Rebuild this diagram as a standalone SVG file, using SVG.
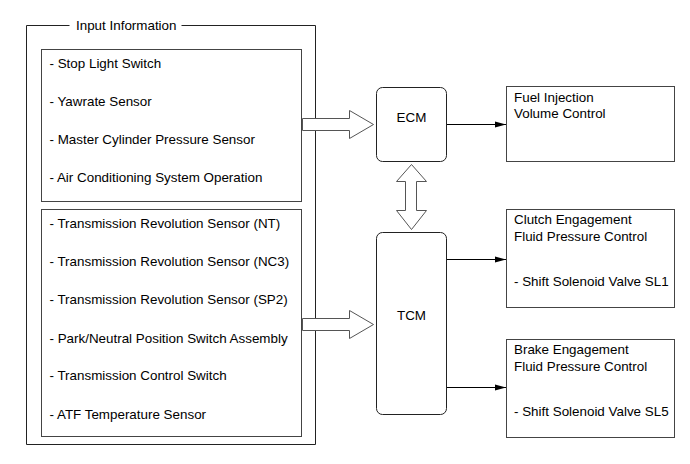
<svg xmlns="http://www.w3.org/2000/svg" width="690" height="464" viewBox="0 0 690 464">
<defs>
<style>
text{font-family:"Liberation Sans",Arial,sans-serif;font-size:13.4px;fill:#000}
.frame{fill:none;stroke:#222;stroke-width:1}
.box{fill:#fff;stroke:#444;stroke-width:1}
.blk{fill:#fff;stroke:#555;stroke-width:1}
.ln{fill:none;stroke:#000;stroke-width:1.2}
.c{text-anchor:middle}
</style>
<marker id="ah" markerWidth="11" markerHeight="7" refX="11" refY="3.5" orient="auto" markerUnits="userSpaceOnUse">
<path d="M0,0.5 L11,3.5 L0,6.5 Z" fill="#000"/>
</marker>
</defs>
<rect width="690" height="464" fill="#fff"/>

<g id="input-frame">
<path class="frame" d="M69.5,25.5 H26.5 V444.5 H315.5 V25.5 H181.5"/>
<text x="76" y="30">Input Information</text>
</g>

<g id="ecm-inputs">
<rect class="box" x="41.5" y="49.5" width="260" height="152"/>
<text x="49.5" y="68">- Stop Light Switch</text>
<text x="49.5" y="105.5">- Yawrate Sensor</text>
<text x="49.5" y="144">- Master Cylinder Pressure Sensor</text>
<text x="49.5" y="182">- Air Conditioning System Operation</text>
</g>

<g id="tcm-inputs">
<rect class="box" x="41.5" y="209.5" width="260" height="227"/>
<text x="49.5" y="228">- Transmission Revolution Sensor (NT)</text>
<text x="49.5" y="266">- Transmission Revolution Sensor (NC3)</text>
<text x="49.5" y="304">- Transmission Revolution Sensor (SP2)</text>
<text x="49.5" y="343">- Park/Neutral Position Switch Assembly</text>
<text x="49.5" y="380">- Transmission Control Switch</text>
<text x="49.5" y="419">- ATF Temperature Sensor</text>
</g>

<g id="ecm">
<rect class="frame" x="376.5" y="87.5" width="70" height="74" rx="6"/>
<text class="c" x="411.5" y="122">ECM</text>
</g>

<g id="tcm">
<rect class="frame" x="376.5" y="232.5" width="70" height="182" rx="6"/>
<text class="c" x="411.5" y="320">TCM</text>
</g>

<g id="fuel">
<rect class="box" x="506.5" y="86.5" width="168" height="75"/>
<text x="514" y="102">Fuel Injection</text>
<text x="514" y="118">Volume Control</text>
</g>

<g id="clutch">
<rect class="box" x="506.5" y="209.5" width="168" height="98"/>
<text x="514" y="224">Clutch Engagement</text>
<text x="514" y="241">Fluid Pressure Control</text>
<text x="514" y="286">- Shift Solenoid Valve SL1</text>
</g>

<g id="brake">
<rect class="box" x="506.5" y="339.5" width="168" height="98"/>
<text x="514" y="354">Brake Engagement</text>
<text x="514" y="371">Fluid Pressure Control</text>
<text x="514" y="416">- Shift Solenoid Valve SL5</text>
</g>

<g id="connectors">
<path class="blk" d="M302.5,118.5 H349.5 V110.5 L373.5,124.5 L349.5,138.5 V130.5 H302.5 Z"/>
<path class="blk" d="M302.5,318.5 H349.5 V310.5 L373.5,324.5 L349.5,338.5 V330.5 H302.5 Z"/>
<path class="blk" d="M411.5,164.5 L426.5,181.5 H416.5 V210.5 H426.5 L411.5,229.5 L396.5,210.5 H405.5 V181.5 H396.5 Z"/>
<line class="ln" x1="447" y1="124.5" x2="506" y2="124.5" marker-end="url(#ah)"/>
<line class="ln" x1="447" y1="259.5" x2="506" y2="259.5" marker-end="url(#ah)"/>
<line class="ln" x1="447" y1="387.5" x2="506" y2="387.5" marker-end="url(#ah)"/>
</g>
</svg>
